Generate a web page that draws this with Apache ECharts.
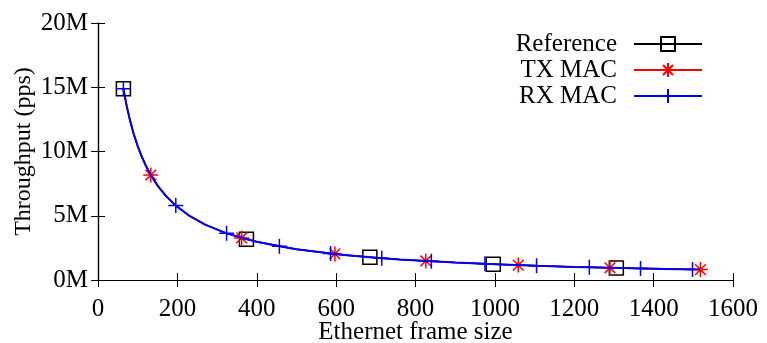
<!DOCTYPE html>
<html>
<head>
<meta charset="utf-8">
<script src="https://cdn.jsdelivr.net/npm/echarts@6/dist/echarts.min.js"></script>
<style>
html,body{margin:0;padding:0;background:#fff;}
#chart{width:767px;height:343px;}
</style>
</head>
<body>
<div id="chart"></div>
<script>
// Curve (frame size in bytes, throughput in Mpps)
const curveFrameSize = [64, 72, 80, 90, 100, 110, 120, 133, 150, 170, 196, 230, 270, 324, 400, 500, 620, 760, 900, 1050, 1200, 1350, 1518];
const curveMpps      = [14.88, 13.59, 12.5, 11.36, 10.42, 9.62, 8.93, 8.17, 7.35, 6.58, 5.79, 5.0, 4.31, 3.63, 2.98, 2.40, 1.95, 1.60, 1.36, 1.17, 1.02, 0.91, 0.81];

// Marker points
const refX = [64, 374, 685, 996, 1306];
const refY = [14.88, 3.17, 1.77, 1.23, 0.94];
const txX  = [133, 362, 597, 826, 1059, 1290, 1518];
const txY  = [8.17, 3.27, 2.03, 1.48, 1.16, 0.95, 0.81];
const rxX  = [64, 196, 324, 457, 586, 715, 840, 975, 1105, 1238, 1367, 1498];
const rxY  = [14.88, 5.79, 3.63, 2.62, 2.06, 1.70, 1.45, 1.26, 1.11, 0.99, 0.90, 0.82];

const xTicks = [0, 200, 400, 600, 800, 1000, 1200, 1400, 1600];
const yTicks = [0, 5, 10, 15, 20];

function buildData(mx, my, xStart, xEnd) {
  const pts = [];
  for (let i = 0; i < curveFrameSize.length; i++) {
    const x = curveFrameSize[i];
    if (x >= xStart && x <= xEnd && mx.indexOf(x) < 0) {
      pts.push({ value: [x, curveMpps[i]], symbol: 'none' });
    }
  }
  for (let i = 0; i < mx.length; i++) pts.push({ value: [mx[i], my[i]] });
  pts.sort((a, b) => a.value[0] - b.value[0]);
  return pts;
}

const FONT = '"Liberation Serif", "DejaVu Serif", serif';
const chart = echarts.init(document.getElementById('chart'), null, { renderer: 'canvas' });

const grid = { left: 98, right: 34, top: 23, bottom: 63, containLabel: false, outerBoundsMode: 'none' };
const axisLine = { show: true, lineStyle: { color: '#000', width: 1.2 } };
const tick = { show: true, inside: true, length: 7, lineStyle: { color: '#000', width: 1 } };

chart.setOption({
  animation: false,
  backgroundColor: '#fff',
  grid: grid,
  xAxis: [{
    type: 'value', min: xTicks[0], max: xTicks[xTicks.length - 1], interval: 200,
    axisLine: axisLine, axisTick: tick, splitLine: { show: false },
    axisLabel: { color: '#000', fontFamily: FONT, fontSize: 25, margin: 17, formatter: v => String(v) },
    name: 'Ethernet frame size', nameLocation: 'middle', nameGap: 40, nameMoveOverlap: false,
    nameTextStyle: { color: '#000', fontFamily: FONT, fontSize: 25 }
  }, {
    type: 'value', position: 'top', min: 0, max: 1600, interval: 200,
    axisLine: axisLine, axisTick: tick, axisLabel: { show: false }, splitLine: { show: false }
  }],
  yAxis: [{
    type: 'value', min: yTicks[0], max: yTicks[yTicks.length - 1], interval: 5,
    axisLine: axisLine, axisTick: tick, splitLine: { show: false },
    axisLabel: { color: '#000', fontFamily: FONT, fontSize: 25, margin: 10, formatter: '{value}M' },
    name: 'Throughput (pps)', nameLocation: 'middle', nameGap: 62, nameMoveOverlap: false,
    nameTextStyle: { color: '#000', fontFamily: FONT, fontSize: 24 }
  }, {
    type: 'value', position: 'right', min: 0, max: 20, interval: 5,
    axisLine: axisLine, axisTick: tick, axisLabel: { show: false }, splitLine: { show: false }
  }],
  legend: {
    orient: 'vertical', right: 59, top: 26, align: 'right',
    itemWidth: 68, itemHeight: 17.5, itemGap: 0,
    textStyle: { color: '#000', fontFamily: FONT, fontSize: 25, lineHeight: 26, padding: [0, 12, 0, 0] },
    data: ['Reference', 'TX MAC', 'RX MAC']
  },
  series: [{
    name: 'Reference', type: 'line',
    data: buildData(refX, refY, 64, 1518),
    symbol: 'path://M0 0H14V14H0Z', symbolSize: 14, showSymbol: true, showAllSymbol: true,
    lineStyle: { color: '#000', width: 1.5 },
    itemStyle: { color: 'rgba(0,0,0,0)', borderColor: '#000', borderWidth: 1.5 },
    z: 2
  }, {
    name: 'TX MAC', type: 'line',
    data: buildData(txX, txY, 64, 1518),
    symbol: 'path://M7 0V14M0 7H14M2 2L12 12M2 12L12 2', symbolSize: 15, showSymbol: true, showAllSymbol: true,
    lineStyle: { color: '#ff0000', width: 1.5 },
    itemStyle: { color: 'rgba(0,0,0,0)', borderColor: '#ff0000', borderWidth: 1.5 },
    z: 3
  }, {
    name: 'RX MAC', type: 'line',
    data: buildData(rxX, rxY, 64, 1498),
    symbol: 'path://M7 0V14M0 7H14', symbolSize: 15, showSymbol: true, showAllSymbol: true,
    lineStyle: { color: '#0000ff', width: 2 },
    itemStyle: { color: 'rgba(0,0,0,0)', borderColor: '#0000ff', borderWidth: 1.5 },
    z: 4
  }]
});
</script>
</body>
</html>
